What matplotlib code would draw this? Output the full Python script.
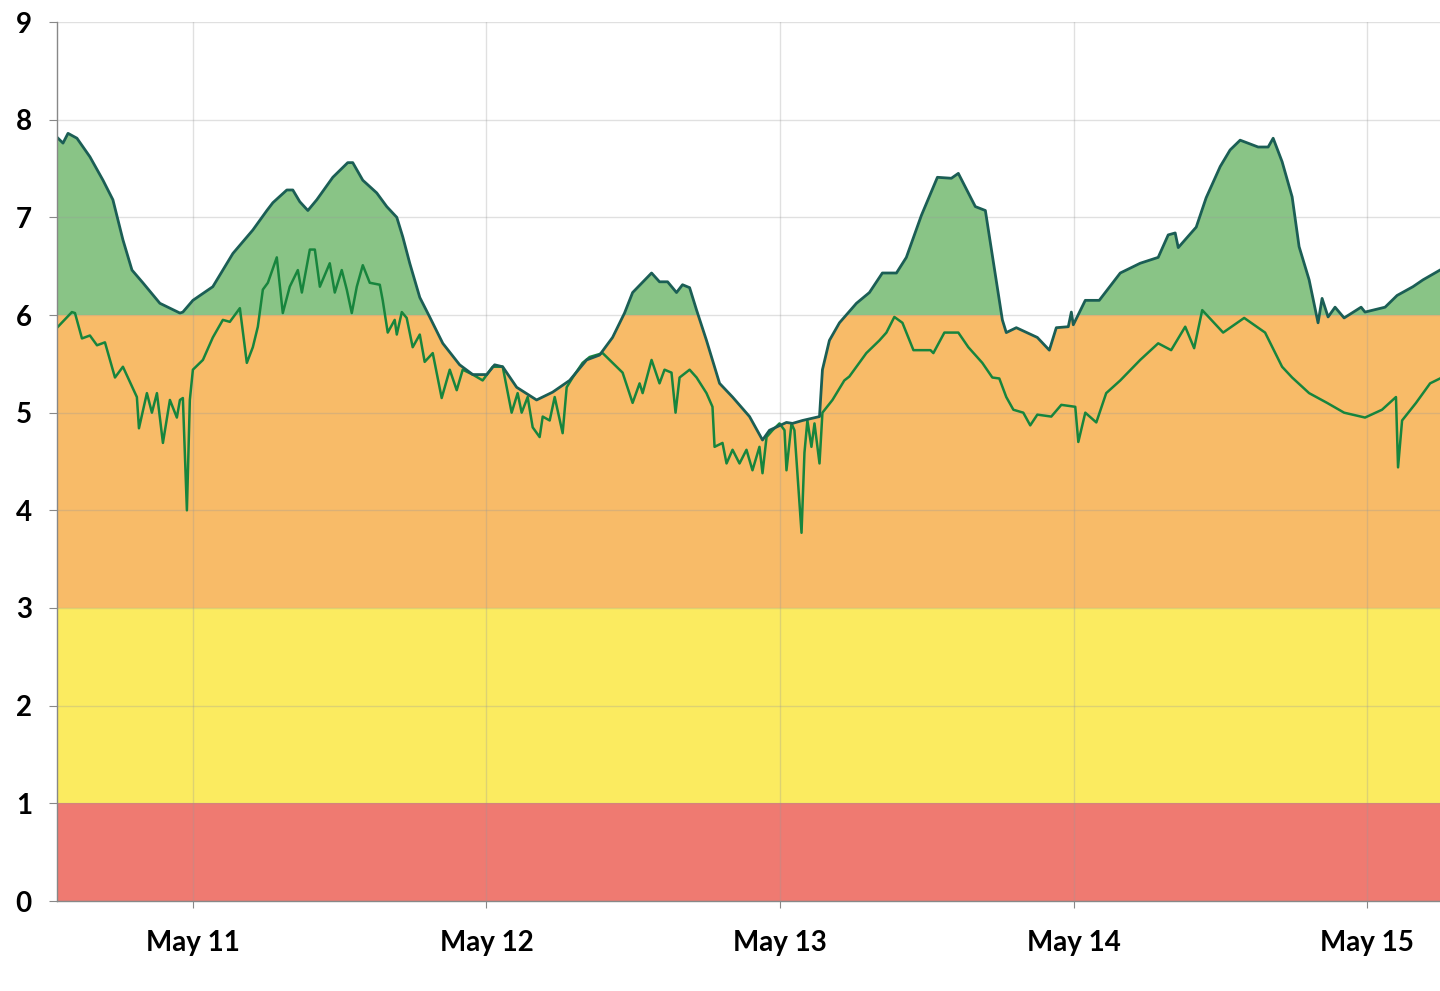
import numpy as np
import pandas as pd
import matplotlib
matplotlib.use("Agg")
import matplotlib.pyplot as plt
import matplotlib.dates as mdates

# hours after May 11 00:00
upper_hours = [-11.11, -10.62, -10.21, -9.48, -8.42, -7.35, -6.54, -5.72, -4.98, -4.09,
               -2.70, -1.06, -0.82, 0.0, 1.63, 3.27, 4.90, 6.05, 6.54, 7.68,
               8.17, 8.74, 9.40, 10.13, 11.44, 12.66, 13.07, 13.89, 15.03, 15.85,
               16.67, 17.16, 17.73, 18.55, 19.36, 20.43, 21.81, 22.88, 24.02, 24.67,
               25.33, 26.47, 28.10, 29.41, 30.80, 32.19, 33.25, 34.31, 35.29, 35.95,
               37.50, 38.15, 38.81, 39.54, 40.03, 40.61, 41.18, 41.99, 43.06, 44.12,
               45.51, 46.57, 47.14, 48.53, 49.02, 49.84, 51.23, 51.47, 52.04, 52.86,
               54.25, 55.31, 56.37, 57.52, 58.33, 59.56, 60.87, 62.01, 62.58, 63.97,
               64.79, 66.18, 66.50, 67.32, 69.04, 70.02, 70.59, 71.57, 71.82, 71.98,
               72.96, 74.10, 75.82, 77.45, 78.92, 79.74, 80.31, 80.56, 82.03, 82.84,
               83.99, 84.80, 85.62, 87.09, 87.91, 88.32, 89.05, 89.87, 90.44, 91.26,
               91.99, 92.32, 92.81, 93.38, 94.12, 95.51, 95.83, 97.47, 98.45, 99.75,
               100.57, 101.96]
upper_vals = [7.82, 7.76, 7.86, 7.81, 7.62, 7.38, 7.18, 6.77, 6.46, 6.33,
              6.12, 6.02, 6.03, 6.15, 6.29, 6.63, 6.87, 7.07, 7.15, 7.28,
              7.28, 7.16, 7.07, 7.18, 7.41, 7.56, 7.56, 7.38, 7.25, 7.11,
              7.00, 6.80, 6.53, 6.18, 5.98, 5.71, 5.49, 5.39, 5.39, 5.49,
              5.47, 5.26, 5.13, 5.21, 5.33, 5.54, 5.59, 5.77, 6.02, 6.23,
              6.43, 6.34, 6.34, 6.23, 6.31, 6.28, 6.05, 5.74, 5.30, 5.16,
              4.96, 4.72, 4.82, 4.90, 4.89, 4.92, 4.96, 5.44, 5.74, 5.92,
              6.12, 6.23, 6.43, 6.43, 6.59, 7.02, 7.41, 7.40, 7.45, 7.11,
              7.07, 5.95, 5.82, 5.87, 5.77, 5.64, 5.87, 5.88, 6.03, 5.90,
              6.15, 6.15, 6.43, 6.53, 6.59, 6.82, 6.84, 6.69, 6.90, 7.20,
              7.52, 7.69, 7.79, 7.72, 7.72, 7.81, 7.57, 7.21, 6.70, 6.36,
              5.92, 6.17, 5.98, 6.08, 5.97, 6.08, 6.03, 6.08, 6.20, 6.29,
              6.36, 6.46]

lower_hours = [-11.03, -9.89, -9.64, -9.07, -8.42, -7.84, -7.19, -6.37, -5.72, -4.58,
               -4.41, -3.76, -3.35, -2.94, -2.45, -1.88, -1.31, -1.06, -0.82, -0.49,
               -0.25, 0.0, 0.82, 1.63, 2.45, 3.02, 3.84, 4.41, 4.90, 5.31,
               5.72, 6.13, 6.86, 7.35, 7.92, 8.58, 8.91, 9.56, 9.97, 10.38,
               11.19, 11.60, 12.17, 12.58, 12.99, 13.40, 13.89, 14.46, 15.28, 15.52,
               15.93, 16.50, 16.67, 17.08, 17.48, 17.97, 18.55, 18.95, 19.61, 20.34,
               21.00, 21.57, 22.06, 22.88, 23.69, 24.51, 25.33, 26.06, 26.55, 26.88,
               27.37, 27.78, 28.35, 28.60, 29.17, 29.58, 30.23, 30.56, 31.05, 31.86,
               32.44, 33.50, 34.31, 35.13, 35.95, 36.52, 36.77, 37.50, 38.15, 38.56,
               39.13, 39.46, 39.79, 40.61, 41.18, 41.99, 42.48, 42.65, 43.30, 43.63,
               44.12, 44.69, 45.26, 45.75, 46.32, 46.57, 46.90, 47.39, 47.96, 48.37,
               48.53, 48.94, 49.18, 49.76, 50.00, 50.24, 50.57, 50.82, 51.23, 51.47,
               52.29, 53.26, 53.67, 55.06, 56.13, 56.70, 57.35, 58.01, 58.91, 60.30,
               60.54, 61.44, 62.58, 63.40, 64.54, 65.36, 65.93, 66.50, 67.08, 67.89,
               68.46, 69.04, 70.18, 71.00, 72.14, 72.39, 72.96, 73.86, 74.67, 75.82,
               77.45, 78.92, 79.98, 81.13, 81.86, 82.52, 84.23, 85.95, 87.66, 89.05,
               89.87, 91.26, 92.73, 94.12, 95.83, 97.22, 98.36, 98.53, 98.86, 100.00,
               101.15, 101.96]
lower_vals = [5.88, 6.03, 6.02, 5.76, 5.79, 5.69, 5.72, 5.36, 5.47, 5.16,
              4.84, 5.20, 5.00, 5.20, 4.69, 5.13, 4.95, 5.13, 5.15, 4.00,
              5.13, 5.44, 5.54, 5.77, 5.95, 5.93, 6.07, 5.51, 5.67, 5.88,
              6.26, 6.33, 6.59, 6.02, 6.29, 6.46, 6.23, 6.67, 6.67, 6.29,
              6.53, 6.23, 6.46, 6.26, 6.02, 6.29, 6.51, 6.33, 6.31, 6.15,
              5.82, 5.95, 5.80, 6.03, 5.97, 5.67, 5.80, 5.52, 5.61, 5.15,
              5.44, 5.23, 5.44, 5.39, 5.33, 5.47, 5.47, 5.00, 5.20, 5.00,
              5.16, 4.85, 4.75, 4.96, 4.92, 5.16, 4.79, 5.26, 5.36, 5.51,
              5.57, 5.61, 5.51, 5.41, 5.10, 5.30, 5.20, 5.54, 5.30, 5.44,
              5.41, 5.00, 5.36, 5.44, 5.36, 5.20, 5.06, 4.65, 4.69, 4.48,
              4.62, 4.48, 4.62, 4.41, 4.65, 4.38, 4.75, 4.82, 4.89, 4.82,
              4.41, 4.89, 4.82, 3.77, 4.59, 4.92, 4.65, 4.89, 4.48, 5.00,
              5.13, 5.33, 5.37, 5.61, 5.74, 5.82, 5.98, 5.92, 5.64, 5.64,
              5.61, 5.82, 5.82, 5.67, 5.51, 5.36, 5.35, 5.16, 5.03, 5.00,
              4.87, 4.98, 4.96, 5.08, 5.06, 4.70, 5.00, 4.90, 5.20, 5.33,
              5.54, 5.71, 5.64, 5.88, 5.66, 6.05, 5.82, 5.97, 5.82, 5.47,
              5.36, 5.20, 5.10, 5.00, 4.95, 5.03, 5.16, 4.44, 4.92, 5.10,
              5.30, 5.35]

bands = [(0, 1, "#ef7a71"), (1, 3, "#fbeb60"), (3, 6, "#f8bb68"), (6, 9, "#89c486")]

base = pd.Timestamp("2024-05-11")
t_up = base + pd.to_timedelta(upper_hours, unit="h")
t_lo = base + pd.to_timedelta(lower_hours, unit="h")
upper = np.array(upper_vals)

fig = plt.figure(figsize=(14.4, 9.91), dpi=100)
ax = fig.add_axes([57 / 1440, 90 / 991, 1 - 57 / 1440, (901 - 22) / 991])

# area under the upper line, coloured by band
area = ax.fill_between(t_up, 0, upper, facecolor="none", edgecolor="none")
clip = area.get_paths()[0]
for lo, hi, c in bands:
    span = ax.axhspan(lo, hi, color=c, lw=0, zorder=1)
    span.set_clip_path(clip, ax.transData)

ax.plot(t_lo, lower_vals, color="#17853d", lw=1.8, zorder=4)
ax.plot(t_up, upper_vals, color="#1b5e55", lw=2.0, zorder=5)

ax.set_xlim(t_up[0], t_up[-1])
ax.set_ylim(0, 9)
ax.set_yticks(range(10))
ax.xaxis.set_major_locator(mdates.DayLocator())
ax.xaxis.set_major_formatter(mdates.DateFormatter("%b %d"))

ax.grid(True, color="#999999", alpha=0.3, lw=1)
ax.set_axisbelow(False)
for s in ["top", "right"]:
    ax.spines[s].set_visible(False)
for s in ["left", "bottom"]:
    ax.spines[s].set_color("#888888")
    ax.spines[s].set_linewidth(1)
    ax.spines[s].set_zorder(6)

ax.tick_params(axis="x", length=5, pad=16, color="#888888", labelsize=20)
ax.tick_params(axis="y", length=6, pad=12, color="#888888", labelsize=20)
for lab in ax.get_xticklabels() + ax.get_yticklabels():
    lab.set_fontfamily(["Lato", "DejaVu Sans"])
    lab.set_fontweight("bold")

fig.savefig("out.png", dpi=100)
